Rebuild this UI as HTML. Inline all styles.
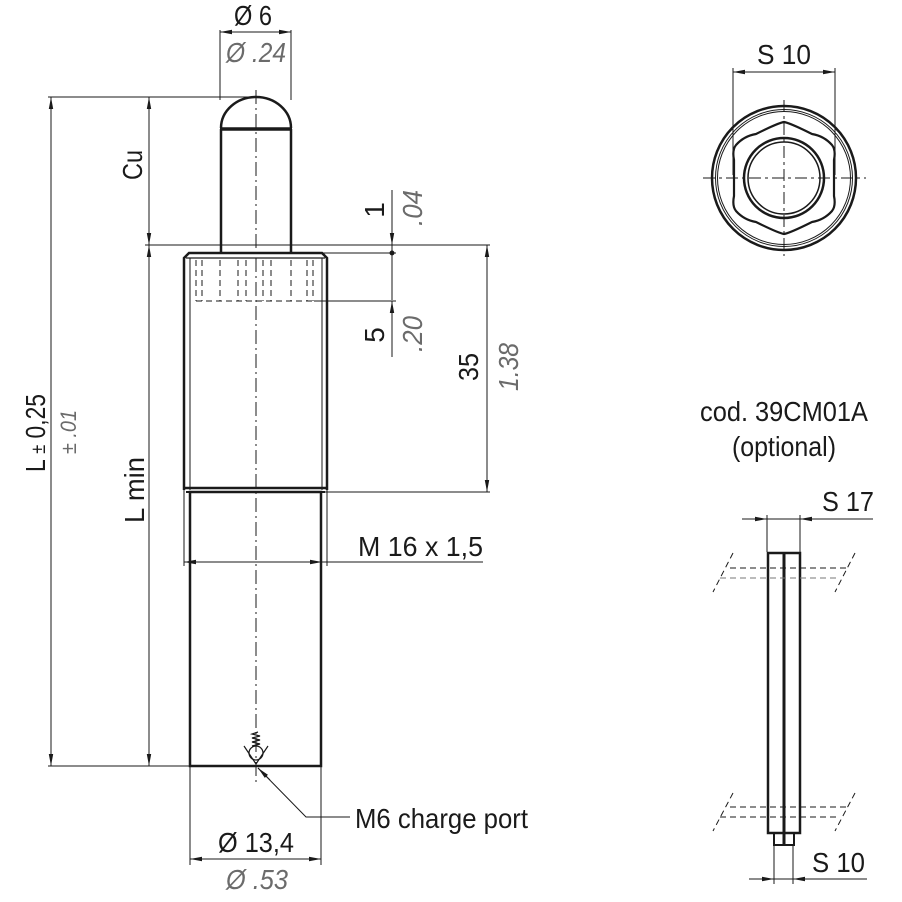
<!DOCTYPE html>
<html><head><meta charset="utf-8"><style>
html,body{margin:0;padding:0;background:#fff}
svg{display:block}
text{font-family:"Liberation Sans",sans-serif;fill:#1a1a1a}
.g{fill:#6b6b6b;font-style:italic}
</style></head><body>
<svg width="902" height="902" viewBox="0 0 902 902" xmlns="http://www.w3.org/2000/svg">
<defs>
<marker id="a" viewBox="0 0 12 6" refX="12" refY="3" markerWidth="12" markerHeight="6" markerUnits="userSpaceOnUse" orient="auto-start-reverse"><path d="M0,0.8 L12,3 L0,5.2z" fill="#1a1a1a"/></marker>
</defs>
<g stroke="#1a1a1a" fill="none">
<g stroke-width="1">
<line x1="220" y1="30" x2="220" y2="100"/><line x1="291" y1="30" x2="291" y2="100"/>
<line x1="48" y1="97" x2="255" y2="97"/>
<line x1="145" y1="245" x2="490" y2="245"/>
<line x1="322" y1="253" x2="396" y2="253"/>
<line x1="314" y1="301" x2="396" y2="301"/>
<line x1="322" y1="492" x2="490" y2="492"/>
<line x1="48" y1="766" x2="190" y2="766"/>
<line x1="184" y1="490" x2="184" y2="566"/><line x1="327" y1="490" x2="327" y2="566"/>
<line x1="190" y1="766" x2="190" y2="865"/><line x1="321" y1="766" x2="321" y2="865"/>
<line x1="220" y1="32" x2="291" y2="32" marker-start="url(#a)" marker-end="url(#a)"/>
<line x1="51" y1="97" x2="51" y2="766" marker-start="url(#a)" marker-end="url(#a)"/>
<line x1="149" y1="97" x2="149" y2="245" marker-start="url(#a)" marker-end="url(#a)"/>
<line x1="149" y1="245" x2="149" y2="766" marker-start="url(#a)" marker-end="url(#a)"/>
<line x1="487" y1="245" x2="487" y2="492" marker-start="url(#a)" marker-end="url(#a)"/>
<line x1="392" y1="190" x2="392" y2="245" marker-end="url(#a)"/>
<line x1="392" y1="245" x2="392" y2="300"/>
<line x1="392" y1="357" x2="392" y2="301" marker-end="url(#a)"/>
<line x1="184" y1="562" x2="483" y2="562"/>
<line x1="214" y1="562" x2="184" y2="562" marker-end="url(#a)"/>
<line x1="300" y1="562" x2="322" y2="562" marker-end="url(#a)"/>
<line x1="190" y1="859" x2="321" y2="859" marker-start="url(#a)" marker-end="url(#a)"/>
<polyline points="350,817 306,817 258,768"/>
<line x1="270" y1="780" x2="258" y2="768" marker-end="url(#a)"/>
</g>
<circle cx="392" cy="253" r="2" fill="#1a1a1a"/>
<line x1="256" y1="90" x2="256" y2="785" stroke-width="1" stroke-dasharray="14,4,2,4"/>
<path d="M221,128 A35,31 0 0 1 291,128" stroke-width="2.5"/>
<line x1="220" y1="129" x2="292" y2="129" stroke-width="3.5"/>
<line x1="221" y1="129" x2="221" y2="253" stroke-width="2.5"/>
<line x1="291" y1="129" x2="291" y2="253" stroke-width="2.5"/>
<line x1="221" y1="245" x2="291" y2="245" stroke-width="1" stroke-dasharray="8,4"/>
<path d="M184,490 L184,258 L189,253 L322,253 L327,258 L327,490" stroke-width="2.5"/>
<line x1="186" y1="258" x2="325" y2="258" stroke-width="1.2"/>
<line x1="190" y1="258" x2="190" y2="490" stroke-width="1"/>
<line x1="322" y1="258" x2="322" y2="490" stroke-width="1"/>
<g stroke-width="1" stroke-dasharray="6,4">
<line x1="196" y1="260" x2="196" y2="301"/><line x1="202" y1="260" x2="202" y2="301"/>
<line x1="220" y1="260" x2="220" y2="301"/><line x1="238" y1="260" x2="238" y2="301"/>
<line x1="246" y1="260" x2="246" y2="301"/><line x1="263" y1="260" x2="263" y2="301"/>
<line x1="271" y1="260" x2="271" y2="301"/><line x1="291" y1="260" x2="291" y2="301"/>
<line x1="307" y1="260" x2="307" y2="301"/><line x1="313" y1="260" x2="313" y2="301"/>
<line x1="196" y1="301" x2="314" y2="301"/>
</g>
<line x1="184" y1="488" x2="327" y2="488" stroke-width="2.5"/>
<line x1="186" y1="492" x2="325" y2="492" stroke-width="2"/>
<rect x="190" y="492" width="131" height="274" stroke-width="2.5"/>
<circle cx="256" cy="753" r="7" stroke-width="1.2"/>
<polyline points="244,746 256,764 268,746" stroke-width="1.2"/>
<polyline points="252,746 260,744 252,742 260,740 252,738 260,736 252,734 258,732" stroke-width="1.2"/>
<circle cx="784" cy="178" r="72" stroke-width="2.5"/>
<circle cx="784" cy="178" r="68.5" stroke-width="1"/>
<circle cx="784" cy="178" r="66.5" stroke-width="1"/>
<path d="M784,122 Q790,123 812,134 Q824,136 832,145 Q836,150 834,160 L834,196 Q836,206 832,211 Q824,220 812,222 Q790,233 784,234 Q778,233 756,222 Q744,220 736,211 Q732,206 734,196 L734,160 Q732,150 736,145 Q744,136 756,134 Q778,123 784,122 Z" stroke-width="2.2"/>
<circle cx="784" cy="178" r="40" stroke-width="2.5"/>
<circle cx="784" cy="178" r="36" stroke-width="1.5"/>
<line x1="703" y1="178" x2="866" y2="178" stroke-width="1" stroke-dasharray="12,4,3,4"/>
<line x1="784" y1="100" x2="784" y2="256" stroke-width="1" stroke-dasharray="12,4,3,4"/>
<line x1="733" y1="68" x2="733" y2="175" stroke-width="1"/>
<line x1="835" y1="68" x2="835" y2="175" stroke-width="1"/>
<line x1="733" y1="72" x2="835" y2="72" stroke-width="1" marker-start="url(#a)" marker-end="url(#a)"/>
<rect x="768" y="553" width="32" height="280" stroke-width="2.5"/>
<line x1="784" y1="553" x2="784" y2="845" stroke-width="3"/>
<rect x="774" y="833" width="20" height="12" stroke-width="2"/>
<g stroke-width="1">
<line x1="767" y1="515" x2="767" y2="552"/><line x1="800" y1="515" x2="800" y2="552"/>
<line x1="742" y1="519" x2="873" y2="519"/>
<line x1="751" y1="519" x2="767" y2="519" marker-end="url(#a)"/>
<line x1="816" y1="519" x2="800" y2="519" marker-end="url(#a)"/>
<line x1="774" y1="845" x2="774" y2="884"/><line x1="793" y1="845" x2="793" y2="884"/>
<line x1="749" y1="879" x2="867" y2="879"/>
<line x1="758" y1="879" x2="774" y2="879" marker-end="url(#a)"/>
<line x1="809" y1="879" x2="793" y2="879" marker-end="url(#a)"/>
</g>
<g stroke-width="1" stroke-dasharray="6,4">
<line x1="730" y1="568" x2="847" y2="568"/>
<line x1="720" y1="578" x2="840" y2="578" stroke="#777"/>
<line x1="733" y1="553" x2="713" y2="592"/>
<line x1="855" y1="553" x2="835" y2="592"/>
<line x1="730" y1="807" x2="847" y2="807"/>
<line x1="720" y1="817" x2="840" y2="817"/>
<line x1="733" y1="793" x2="713" y2="831"/>
<line x1="855" y1="793" x2="835" y2="831"/>
</g>
</g>
<g font-size="28">
<text x="253" y="25" text-anchor="middle" textLength="38" lengthAdjust="spacingAndGlyphs">Ø 6</text>
<text class="g" x="256" y="62" text-anchor="middle" textLength="60" lengthAdjust="spacingAndGlyphs">Ø .24</text>
<text transform="translate(142,165) rotate(-90)" text-anchor="middle" textLength="30" lengthAdjust="spacingAndGlyphs">Cu</text>
<text transform="translate(144,490) rotate(-90)" text-anchor="middle" textLength="66" lengthAdjust="spacingAndGlyphs">L min</text>
<text transform="translate(45,433) rotate(-90)" text-anchor="middle" textLength="78" lengthAdjust="spacingAndGlyphs">L <tspan font-size="20">±</tspan> 0,25</text>
<text class="g" font-size="22" transform="translate(76,432) rotate(-90)" text-anchor="middle" textLength="44" lengthAdjust="spacingAndGlyphs">± .01</text>
<text transform="translate(384,210) rotate(-90)" text-anchor="middle">1</text>
<text class="g" transform="translate(422,208) rotate(-90)" text-anchor="middle" textLength="36" lengthAdjust="spacingAndGlyphs">.04</text>
<text transform="translate(384,335) rotate(-90)" text-anchor="middle">5</text>
<text class="g" transform="translate(422,334) rotate(-90)" text-anchor="middle" textLength="36" lengthAdjust="spacingAndGlyphs">.20</text>
<text transform="translate(478,367) rotate(-90)" text-anchor="middle" textLength="28" lengthAdjust="spacingAndGlyphs">35</text>
<text class="g" transform="translate(518,367) rotate(-90)" text-anchor="middle" textLength="48" lengthAdjust="spacingAndGlyphs">1.38</text>
<text x="358" y="556" textLength="125" lengthAdjust="spacingAndGlyphs">M 16 x 1,5</text>
<text x="218" y="852" textLength="76" lengthAdjust="spacingAndGlyphs">Ø 13,4</text>
<text class="g" x="226" y="889" textLength="62" lengthAdjust="spacingAndGlyphs">Ø .53</text>
<text x="355" y="828" textLength="173" lengthAdjust="spacingAndGlyphs">M6 charge port</text>
<text x="757" y="64" textLength="54" lengthAdjust="spacingAndGlyphs">S 10</text>
<text x="700" y="421" textLength="168" lengthAdjust="spacingAndGlyphs">cod. 39CM01A</text>
<text x="784" y="456" text-anchor="middle" textLength="104" lengthAdjust="spacingAndGlyphs">(optional)</text>
<text x="822" y="511" textLength="52" lengthAdjust="spacingAndGlyphs">S 17</text>
<text x="812" y="872" textLength="53" lengthAdjust="spacingAndGlyphs">S 10</text>
</g>
</svg>
</body></html>
